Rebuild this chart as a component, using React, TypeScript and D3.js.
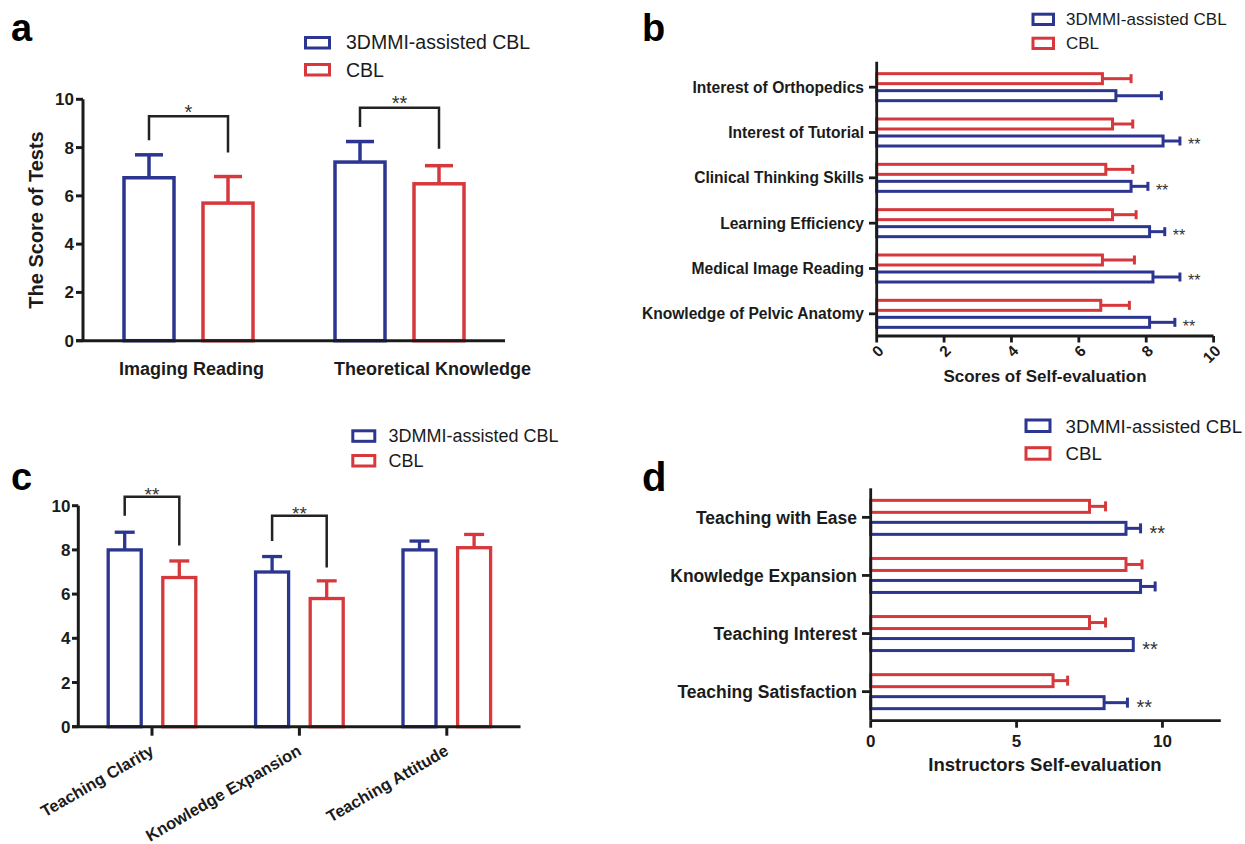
import React from "react";
import * as d3 from "d3";

const BLUE = "#2c3590";
const RED = "#d6383c";
const INK = "#1b1b1b";
const FONT = "'Liberation Sans', Arial, Helvetica, sans-serif";

// ---------- Data ----------
const seriesNames = ["3DMMI-assisted CBL", "CBL"];

// Panel a
const aCategories = ["Imaging Reading", "Theoretical Knowledge"];
const a3dMean = [6.75, 7.4];
const a3dSd = [0.95, 0.85];
const aCblMean = [5.7, 6.5];
const aCblSd = [1.1, 0.75];
const aSig = ["*", "**"];
const aBracketTop = [9.3, 9.65];
const aBracketLeft = [8.3, 8.85];
const aBracketRight = [7.8, 7.95];
const aTicks = [0, 2, 4, 6, 8, 10];

// Panel b (top to bottom)
const bCategories = [
  "Interest of Orthopedics",
  "Interest of Tutorial",
  "Clinical Thinking Skills",
  "Learning Efficiency",
  "Medical Image Reading",
  "Knowledge of Pelvic Anatomy",
];
const b3dMean = [7.1, 8.5, 7.55, 8.1, 8.2, 8.1];
const b3dSd = [1.35, 0.5, 0.5, 0.45, 0.8, 0.75];
const bCblMean = [6.7, 7.0, 6.8, 7.0, 6.7, 6.65];
const bCblSd = [0.85, 0.6, 0.8, 0.7, 0.95, 0.85];
const bSig = ["", "**", "**", "**", "**", "**"];
const bTicks = [0, 2, 4, 6, 8, 10];
const bTitle = "Scores of Self-evaluation";

// Panel c
const cCategories = ["Teaching Clarity", "Knowledge Expansion", "Teaching Attitude"];
const c3dMean = [8.0, 7.0, 8.0];
const c3dSd = [0.8, 0.7, 0.4];
const cCblMean = [6.75, 5.8, 8.1];
const cCblSd = [0.75, 0.8, 0.6];
const cSig = ["**", "**", ""];
const cBracketTop = [10.4, 9.55];
const cBracketLeft = [9.55, 8.4];
const cBracketRight = [8.2, 7.2];
const cTicks = [0, 2, 4, 6, 8, 10];

// Panel d (top to bottom)
const dCategories = [
  "Teaching with Ease",
  "Knowledge Expansion",
  "Teaching Interest",
  "Teaching Satisfaction",
];
const d3dMean = [8.75, 9.25, 9.0, 8.0];
const d3dSd = [0.5, 0.5, 0, 0.8];
const dCblMean = [7.5, 8.75, 7.5, 6.25];
const dCblSd = [0.55, 0.55, 0.55, 0.5];
const dSig = ["**", "", "**", "**"];
const dTicks = [0, 5, 10];
const dTitle = "Instructors Self-evaluation";

// ---------- Helpers ----------
function Legend({ x, y1, y2, w, h, textX, fs, base1, base2, sw }: any) {
  return (
    <g>
      <rect x={x} y={y1} width={w} height={h} fill="white" stroke={BLUE} strokeWidth={sw} />
      <text x={textX} y={base1} fontSize={fs} fill={INK} fontFamily={FONT}>
        {seriesNames[0]}
      </text>
      <rect x={x} y={y2} width={w} height={h} fill="white" stroke={RED} strokeWidth={sw} />
      <text x={textX} y={base2} fontSize={fs} fill={INK} fontFamily={FONT}>
        {seriesNames[1]}
      </text>
    </g>
  );
}

function VBars({ x, y, cats, m1, s1, m2, s2, off, bw, cap, sw }: any) {
  const out: any[] = [];
  cats.forEach((c: string, i: number) => {
    const cx = (x(c) as number) + x.bandwidth() / 2;
    const groups = [
      { m: m1[i], s: s1[i], col: BLUE, dx: -off },
      { m: m2[i], s: s2[i], col: RED, dx: off },
    ];
    groups.forEach((g, j) => {
      const bx = cx + g.dx;
      out.push(
        <g key={`${i}-${j}`}>
          {g.s > 0 && (
            <>
              <line x1={bx} x2={bx} y1={y(g.m)} y2={y(g.m + g.s)} stroke={g.col} strokeWidth={sw} />
              <line x1={bx - cap / 2} x2={bx + cap / 2} y1={y(g.m + g.s)} y2={y(g.m + g.s)} stroke={g.col} strokeWidth={sw} />
            </>
          )}
          <rect x={bx - bw / 2} y={y(g.m)} width={bw} height={y(0) - y(g.m)} fill="white" stroke={g.col} strokeWidth={sw} />
        </g>
      );
    });
  });
  return <g>{out}</g>;
}

function Brackets({ x, y, cats, sig, top, left, right, off, fs, starDy }: any) {
  return (
    <g>
      {top.map((t: number, i: number) => {
        const cx = (x(cats[i]) as number) + x.bandwidth() / 2;
        const xl = cx - off;
        const xr = cx + off;
        return (
          <g key={i}>
            <path
              d={`M${xl},${y(left[i])}V${y(t)}H${xr}V${y(right[i])}`}
              fill="none"
              stroke="#222"
              strokeWidth={2.5}
            />
            <text x={cx} y={y(t) + starDy} fontSize={fs} textAnchor="middle" fill="#333" fontFamily={FONT}>
              {sig[i]}
            </text>
          </g>
        );
      })}
    </g>
  );
}

function HBars({ x, y, cats, m1, s1, m2, s2, off, bh, cap, sw, sig, sigFs, sigDx }: any) {
  const out: any[] = [];
  cats.forEach((c: string, i: number) => {
    const cy = (y(c) as number) + y.bandwidth() / 2;
    const groups = [
      { m: m2[i], s: s2[i], col: RED, dy: -off },
      { m: m1[i], s: s1[i], col: BLUE, dy: off },
    ];
    groups.forEach((g, j) => {
      const by = cy + g.dy;
      out.push(
        <g key={`${i}-${j}`}>
          {g.s > 0 && (
            <>
              <line x1={x(g.m)} x2={x(g.m + g.s)} y1={by} y2={by} stroke={g.col} strokeWidth={sw} />
              <line x1={x(g.m + g.s)} x2={x(g.m + g.s)} y1={by - cap / 2} y2={by + cap / 2} stroke={g.col} strokeWidth={sw} />
            </>
          )}
          <rect x={x(0)} y={by - bh / 2} width={x(g.m) - x(0)} height={bh} fill="white" stroke={g.col} strokeWidth={sw} />
        </g>
      );
    });
    if (sig[i]) {
      const end = x(m1[i] + s1[i]);
      out.push(
        <text key={`s${i}`} x={end + sigDx} y={cy + off + sigFs * 0.585} fontSize={sigFs} fill="#333" fontFamily={FONT}>
          {sig[i]}
        </text>
      );
    }
  });
  return <g>{out}</g>;
}

// ---------- Panels ----------
function PanelA() {
  const x = d3.scaleBand<string>().domain(aCategories).range([83, 505]).padding(0);
  const y = d3.scaleLinear().domain([0, 10]).range([340.7, 99.3]);
  const labelShift = [3, 33];
  return (
    <g>
      <text x={11} y={41} fontSize={38} fontWeight="bold" fill="#000" fontFamily={FONT}>a</text>
      <Legend x={305.5} y1={37.5} y2={64.5} w={24} h={10.5} sw={3} textX={346} fs={19.5} base1={49.3} base2={76.6} />
      <VBars x={x} y={y} cats={aCategories} m1={a3dMean} s1={a3dSd} m2={aCblMean} s2={aCblSd} off={39.5} bw={50} cap={28} sw={3.5} />
      <Brackets x={x} y={y} cats={aCategories} sig={aSig} top={aBracketTop} left={aBracketLeft} right={aBracketRight} off={39.5} fs={20} starDy={2.7} />
      <line x1={83} x2={83} y1={y(10)} y2={y(0)} stroke={INK} strokeWidth={3} />
      <line x1={76} x2={505} y1={y(0)} y2={y(0)} stroke={INK} strokeWidth={3} />
      {aTicks.map((t) => (
        <g key={t}>
          <line x1={76} x2={83} y1={y(t)} y2={y(t)} stroke={INK} strokeWidth={3} />
          <text x={74} y={y(t) + 6} fontSize={17} fontWeight="bold" textAnchor="end" fill={INK} fontFamily={FONT}>{t}</text>
        </g>
      ))}
      {aCategories.map((c, i) => (
        <text key={c} x={(x(c) as number) + x.bandwidth() / 2 + labelShift[i]} y={375} fontSize={18} fontWeight="bold" textAnchor="middle" fill={INK} fontFamily={FONT}>{c}</text>
      ))}
      <text transform="translate(43,220) rotate(-90)" fontSize={20} fontWeight="bold" textAnchor="middle" fill={INK} fontFamily={FONT}>The Score of Tests</text>
    </g>
  );
}

function PanelB() {
  const x = d3.scaleLinear().domain([0, 10]).range([876.7, 1213.6]);
  const y = d3.scaleBand<string>().domain(bCategories).range([64.5, 336.5]).padding(0);
  const axisY = 336;
  return (
    <g>
      <text x={642} y={41} fontSize={38} fontWeight="bold" fill="#000" fontFamily={FONT}>b</text>
      <Legend x={1033} y1={14.2} y2={38.2} w={20.5} h={10.3} sw={3} textX={1066} fs={17} base1={25.4} base2={49.4} />
      <HBars x={x} y={y} cats={bCategories} m1={b3dMean} s1={b3dSd} m2={bCblMean} s2={bCblSd} off={8.5} bh={10} cap={9} sw={3} sig={bSig} sigFs={16} sigDx={8} />
      <line x1={x(0)} x2={x(0)} y1={61.7} y2={axisY} stroke={INK} strokeWidth={2.8} />
      <line x1={x(0)} x2={x(10)} y1={axisY} y2={axisY} stroke={INK} strokeWidth={2.8} />
      {bCategories.map((c) => {
        const cy = (y(c) as number) + y.bandwidth() / 2;
        return (
          <g key={c}>
            <line x1={869} x2={x(0)} y1={cy} y2={cy} stroke={INK} strokeWidth={2.8} />
            <text x={864} y={cy + 5.6} fontSize={15.6} fontWeight="bold" textAnchor="end" fill={INK} fontFamily={FONT}>{c}</text>
          </g>
        );
      })}
      {bTicks.map((t) => (
        <g key={t}>
          <line x1={x(t)} x2={x(t)} y1={axisY} y2={axisY + 6.5} stroke={INK} strokeWidth={2.8} />
          <text transform={`translate(${x(t) + 4},${axisY + 12}) rotate(-45)`} fontSize={15.5} fontWeight="bold" textAnchor="end" dominantBaseline="central" fill={INK} fontFamily={FONT}>{t}</text>
        </g>
      ))}
      <text x={1045} y={381.7} fontSize={17} fontWeight="bold" textAnchor="middle" fill={INK} fontFamily={FONT}>{bTitle}</text>
    </g>
  );
}

function PanelC() {
  const x = d3.scaleBand<string>().domain(cCategories).range([78.3, 520.5]).padding(0);
  const y = d3.scaleLinear().domain([0, 10]).range([726.7, 505.7]);
  return (
    <g>
      <text x={11} y={490} fontSize={38} fontWeight="bold" fill="#000" fontFamily={FONT}>c</text>
      <Legend x={352.8} y1={430.8} y2={455.5} w={22} h={10.5} sw={3} textX={388.5} fs={18} base1={442.4} base2={467.4} />
      <VBars x={x} y={y} cats={cCategories} m1={c3dMean} s1={c3dSd} m2={cCblMean} s2={cCblSd} off={27.3} bw={33} cap={20} sw={3.3} />
      <Brackets x={x} y={y} cats={cCategories} sig={cSig} top={cBracketTop} left={cBracketLeft} right={cBracketRight} off={27.3} fs={19} starDy={4} />
      <line x1={78.3} x2={78.3} y1={y(10)} y2={y(0)} stroke={INK} strokeWidth={3} />
      <line x1={72} x2={520.5} y1={y(0)} y2={y(0)} stroke={INK} strokeWidth={3} />
      {cTicks.map((t) => (
        <g key={t}>
          <line x1={72} x2={78.3} y1={y(t)} y2={y(t)} stroke={INK} strokeWidth={3} />
          <text x={70.5} y={y(t) + 6} fontSize={17} fontWeight="bold" textAnchor="end" fill={INK} fontFamily={FONT}>{t}</text>
        </g>
      ))}
      {cCategories.map((c) => {
        const cx = (x(c) as number) + x.bandwidth() / 2;
        return (
          <g key={c}>
            <line x1={cx} x2={cx} y1={y(0)} y2={y(0) + 9} stroke={INK} strokeWidth={3} />
            <text transform={`translate(${cx + 3},754) rotate(-30)`} fontSize={16.5} fontWeight="bold" textAnchor="end" fill={INK} fontFamily={FONT}>{c}</text>
          </g>
        );
      })}
    </g>
  );
}

function PanelD() {
  const x = d3.scaleLinear().domain([0, 12]).range([870.7, 1220.8]);
  const y = d3.scaleBand<string>().domain(dCategories).range([488.3, 720.7]).padding(0);
  const axisY = 720.7;
  return (
    <g>
      <text x={642} y={491} fontSize={40} fontWeight="bold" fill="#000" fontFamily={FONT}>d</text>
      <Legend x={1026} y1={420} y2={447.7} w={24} h={11.5} sw={3} textX={1065.5} fs={18.7} base1={433.4} base2={460} />
      <HBars x={x} y={y} cats={dCategories} m1={d3dMean} s1={d3dSd} m2={dCblMean} s2={dCblSd} off={11} bh={12} cap={10} sw={3} sig={dSig} sigFs={20} sigDx={9} />
      <line x1={x(0)} x2={x(0)} y1={488.3} y2={axisY} stroke={INK} strokeWidth={2.8} />
      <line x1={x(0)} x2={x(12)} y1={axisY} y2={axisY} stroke={INK} strokeWidth={2.8} />
      {dCategories.map((c) => {
        const cy = (y(c) as number) + y.bandwidth() / 2;
        return (
          <g key={c}>
            <line x1={862} x2={x(0)} y1={cy} y2={cy} stroke={INK} strokeWidth={2.8} />
            <text x={857} y={cy + 6.3} fontSize={17.5} fontWeight="bold" textAnchor="end" fill={INK} fontFamily={FONT}>{c}</text>
          </g>
        );
      })}
      {dTicks.map((t) => (
        <g key={t}>
          <line x1={x(t)} x2={x(t)} y1={axisY} y2={axisY + 7} stroke={INK} strokeWidth={2.8} />
          <text x={x(t)} y={746.5} fontSize={17} fontWeight="bold" textAnchor="middle" fill={INK} fontFamily={FONT}>{t}</text>
        </g>
      ))}
      <text x={1045} y={770.7} fontSize={18.5} fontWeight="bold" textAnchor="middle" fill={INK} fontFamily={FONT}>{dTitle}</text>
    </g>
  );
}

export default function App() {
  return (
    <svg
      width={1245}
      height={844}
      viewBox="0 0 1245 844"
      style={{ position: "absolute", left: 0, top: 0, background: "white" }}
      fontFamily={FONT}
    >
      <rect width={1245} height={844} fill="white" />
      <PanelA />
      <PanelB />
      <PanelC />
      <PanelD />
    </svg>
  );
}
